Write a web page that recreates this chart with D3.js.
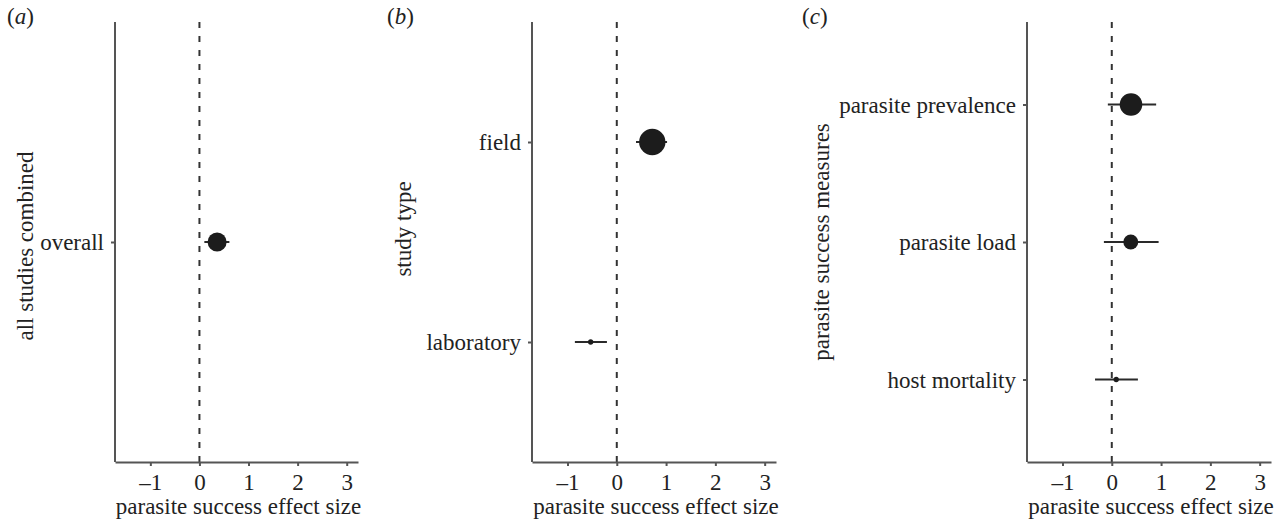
<!DOCTYPE html>
<html lang="en">

<head>
	<meta charset="UTF-8">
	<title>Parasite success effect sizes</title>
	<script src="https://d3js.org/d3.v7.min.js"></script>
	<style>
		body {
			margin: 0;
			background: #fff;
		}

		svg text {
			font-family: "Liberation Serif", "Tinos", "Times New Roman", Times, "DejaVu Serif", serif;
			font-size: 23px;
			fill: #222;
		}
	</style>
</head>

<body>
	<div id="chart"></div>
	<script>
		// values
		const panelLabels = ["a", "b", "c"];
		const yTitles = ["all studies combined", "study type", "parasite success measures"];
		const xTicks = [-1, 0, 1, 2, 3];
		const xDomain = [-1.72, 3.23];

		const catsA = ["overall"];
		const estA = [0.36];
		const lowA = [0.10];
		const highA = [0.61];
		const weightA = [52];

		const catsB = ["field", "laboratory"];
		const estB = [0.72, -0.53];
		const lowB = [0.39, -0.85];
		const highB = [1.02, -0.20];
		const weightB = [100, 4];

		const catsC = ["parasite prevalence", "parasite load", "host mortality"];
		const estC = [0.39, 0.385, 0.09];
		const lowC = [-0.08, -0.16, -0.34];
		const highC = [0.90, 0.95, 0.53];
		const weightC = [73, 32, 4];

		const width = 1287, height = 528;
		const plotTop = 22, plotBottom = 462;

		// layout of the three panels
		const panels = [
			{ left: 115, right: 358, titleX: 33, titleY: 246, labelX: 7, cats: catsA, est: estA, low: lowA, high: highA, w: weightA },
			{ left: 532, right: 776, titleX: 411, titleY: 229, labelX: 387, cats: catsB, est: estB, low: lowB, high: highB, w: weightB },
			{ left: 1027, right: 1271, titleX: 829, titleY: 242, labelX: 802, cats: catsC, est: estC, low: lowC, high: highC, w: weightC }
		];

		const r = d3.scaleSqrt().domain([0, 100]).range([0, 13.2]);

		const svg = d3.select("#chart")
			.append("svg")
			.attr("width", width)
			.attr("height", height);

		panels.forEach((p, i) => {
			const g = svg.append("g");

			const x = d3.scaleLinear().domain(xDomain).range([p.left, p.right]);
			const y = d3.scalePoint().domain(p.cats).range([plotTop, plotBottom]).padding(0.6);

			// panel letter
			const lab = g.append("text")
				.attr("x", p.labelX)
				.attr("y", 24);
			lab.append("tspan").text("(");
			lab.append("tspan").attr("font-style", "italic").text(panelLabels[i]);
			lab.append("tspan").text(")");

			// zero line
			g.append("line")
				.attr("x1", x(0)).attr("x2", x(0))
				.attr("y1", plotTop).attr("y2", plotBottom)
				.attr("stroke", "#333")
				.attr("stroke-width", 2)
				.attr("stroke-dasharray", "6,8");

			// x axis
			const xAxis = g.append("g")
				.attr("transform", `translate(0,${plotBottom})`)
				.call(d3.axisBottom(x).tickValues(xTicks).tickSize(4).tickSizeOuter(0)
					.tickFormat(d => d < 0 ? "\u2013" + Math.abs(d) : d));
			xAxis.attr("font-family", null).attr("font-size", null);
			xAxis.select(".domain").attr("stroke", "#555").attr("stroke-width", 2);
			xAxis.selectAll(".tick line").attr("stroke", "#555").attr("stroke-width", 2);
			xAxis.selectAll(".tick text")
				.attr("fill", null)
				.attr("dy", null).attr("y", 28);

			// y axis
			const yAxis = g.append("g")
				.attr("transform", `translate(${p.left},0)`)
				.call(d3.axisLeft(y).tickSize(4).tickSizeOuter(0));
			yAxis.attr("font-family", null).attr("font-size", null);
			yAxis.select(".domain").attr("stroke", "#555").attr("stroke-width", 2)
				.attr("d", `M0,${plotTop}V${plotBottom}`);
			yAxis.selectAll(".tick line").attr("stroke", "#555").attr("stroke-width", 2);
			yAxis.selectAll(".tick text")
				.attr("fill", null)
				.attr("x", -11).attr("dy", "0.33em");

			g.append("text")
				.attr("text-anchor", "middle")
				.attr("x", (p.left + p.right) / 2 + 2)
				.attr("y", 514)
				.text("parasite success effect size");

			g.append("text")
				.attr("text-anchor", "middle")
				.attr("transform", `translate(${p.titleX},${p.titleY}) rotate(-90)`)
				.text(yTitles[i]);

			// error bars and points
			const rows = p.cats.map((c, k) => ({ cat: c, est: p.est[k], low: p.low[k], high: p.high[k], w: p.w[k] }));

			g.selectAll(".err")
				.data(rows)
				.enter()
				.append("line")
				.attr("x1", d => x(d.low))
				.attr("x2", d => x(d.high))
				.attr("y1", d => y(d.cat))
				.attr("y2", d => y(d.cat))
				.attr("stroke", "#2a2a2a")
				.attr("stroke-width", 2);

			g.selectAll(".pt")
				.data(rows)
				.enter()
				.append("circle")
				.attr("cx", d => x(d.est))
				.attr("cy", d => y(d.cat))
				.attr("r", d => r(d.w))
				.attr("fill", "#1c1c1c");
		});
	</script>
</body>

</html>
